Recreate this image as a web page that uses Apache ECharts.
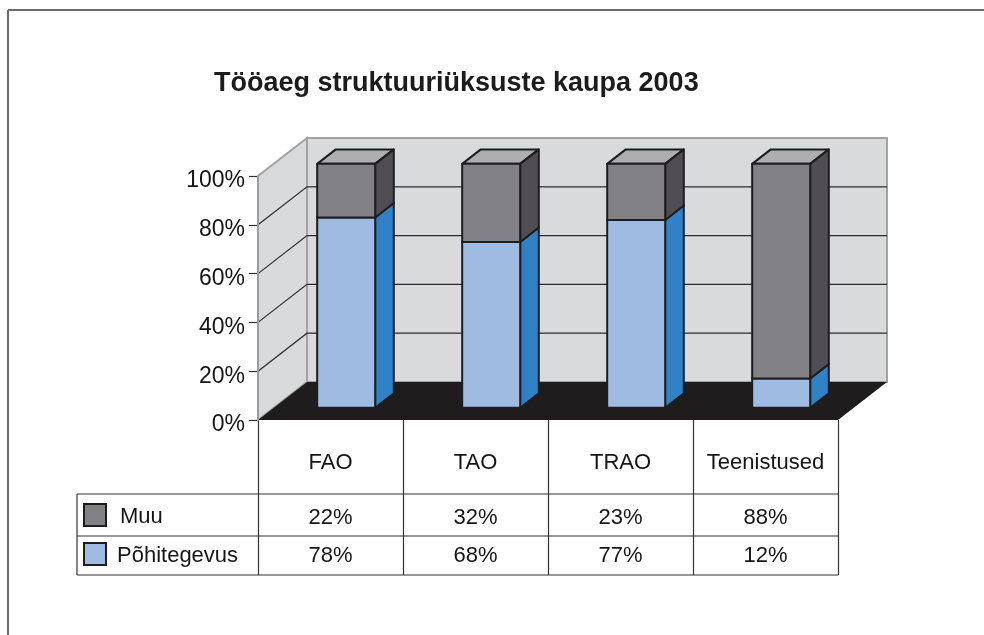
<!DOCTYPE html>
<html>
<head>
<meta charset="utf-8">
<script src="https://cdn.jsdelivr.net/npm/echarts@6/dist/echarts.min.js"></script>
<style>
  html, body { margin: 0; padding: 0; background: #fff; }
  #chart { width: 984px; height: 635px; }
</style>
</head>
<body>
<div id="chart"></div>
<script>
var categories = ['FAO', 'TAO', 'TRAO', 'Teenistused'];
var muu = [22, 32, 23, 88];
var pohitegevus = [78, 68, 77, 12];
var yTicks = [0, 20, 40, 60, 80, 100];
var seriesNames = ['Põhitegevus', 'Muu'];

var FONT = '"Liberation Sans", Arial, Helvetica, sans-serif';
var DX = 49, DY = -38;          // depth of the 3d box
var BAR_FRONT = 0.32, BAR_DEPTH = 0.38;
var COLORS = [
    {front: '#a0bbe2', side: '#3181c6', top: '#c6d6ee'},   // Põhitegevus
    {front: '#828186', side: '#504e53', top: '#aeaeb2'}    // Muu
];
var EDGE = '#1d1c1f';
var TEXT = '#151517';

// rows of the data table below the floor (offset from the 0% line)
var ROW_HEAD = 43, ROW_MUU = 98, ROW_POHI = 136;
var LINE_1 = 74, LINE_2 = 116, LINE_3 = 155;

function renderWalls(params, api) {
    var bw = api.size([1, 0])[0];
    var p0 = api.coord([0, 0]);
    var x0 = p0[0] - bw / 2, x1 = x0 + bw * categories.length;
    var yB = p0[1], yT = api.coord([0, yTicks[yTicks.length - 1]])[1];
    var children = [];

    // left wall
    children.push({
        type: 'polygon',
        shape: {points: [[x0, yB], [x0, yT], [x0 + DX, yT + DY], [x0 + DX, yB + DY]]},
        style: {fill: '#d9dadc', stroke: '#a2a2a4', lineWidth: 2}
    });
    // back wall
    children.push({
        type: 'rect',
        shape: {x: x0 + DX, y: yT + DY, width: x1 - x0, height: yB - yT},
        style: {fill: '#d9dadc', stroke: '#a2a2a4', lineWidth: 2}
    });
    // grid lines
    for (var i = 1; i < yTicks.length - 1; i++) {
        var y = api.coord([0, yTicks[i]])[1];
        children.push({
            type: 'polyline',
            shape: {points: [[x0, y], [x0 + DX, y + DY], [x1 + DX, y + DY]]},
            style: {stroke: '#2b2b2d', lineWidth: 1.2, fill: null}
        });
    }
    // floor
    children.push({
        type: 'polygon',
        shape: {points: [[x0, yB], [x1, yB], [x1 + DX, yB + DY], [x0 + DX, yB + DY]]},
        style: {fill: '#1f1c1e'}
    });
    // front edge of the left wall (axis line)
    children.push({
        type: 'line',
        shape: {x1: x0, y1: yB, x2: x0, y2: yT},
        style: {stroke: '#9c9c9e', lineWidth: 2}
    });
    return {type: 'group', children: children};
}

function renderBar(params, api) {
    var cat = api.value(0), lo = api.value(1), hi = api.value(2);
    var pLo = api.coord([cat, lo]), pHi = api.coord([cat, hi]);
    var bw = api.size([1, 0])[0] * 0.4;
    var c = COLORS[params.seriesIndex - 1];
    var xl = pLo[0] - bw / 2 + DX * BAR_FRONT, xr = xl + bw;
    var yb = pLo[1] + DY * BAR_FRONT, yt = pHi[1] + DY * BAR_FRONT;
    var dx = DX * BAR_DEPTH, dy = DY * BAR_DEPTH;
    var st = {stroke: EDGE, lineWidth: 2, lineJoin: 'round'};
    return {
        type: 'group',
        children: [
            {type: 'polygon', shape: {points: [[xl, yt], [xr, yt], [xr + dx, yt + dy], [xl + dx, yt + dy]]},
                style: Object.assign({fill: c.top}, st)},
            {type: 'polygon', shape: {points: [[xr, yb], [xr + dx, yb + dy], [xr + dx, yt + dy], [xr, yt]]},
                style: Object.assign({fill: c.side}, st)},
            {type: 'rect', shape: {x: xl, y: yt, width: bw, height: yb - yt},
                style: Object.assign({fill: c.front}, st)}
        ]
    };
}

function renderTable(params, api) {
    var i = api.value(0);
    var p = api.coord([i, 0]);
    var half = api.size([1, 0])[0] / 2;
    var x = p[0], y0 = p[1];
    var children = [];
    var lines = [LINE_1, LINE_2, LINE_3];
    for (var k = 0; k < lines.length; k++) {
        children.push({
            type: 'line',
            shape: {x1: x - half, y1: y0 + lines[k], x2: x + half, y2: y0 + lines[k]},
            style: {stroke: '#333', lineWidth: 1.2}
        });
    }
    var texts = [
        [categories[i], ROW_HEAD],
        [muu[i] + '%', ROW_MUU],
        [pohitegevus[i] + '%', ROW_POHI]
    ];
    for (var t = 0; t < texts.length; t++) {
        children.push({
            type: 'text',
            style: {
                text: texts[t][0], x: x, y: y0 + texts[t][1],
                align: 'center', verticalAlign: 'middle',
                fontSize: 22, fontFamily: FONT, fill: TEXT
            }
        });
    }
    return {type: 'group', children: children};
}

var pohiData = [], muuData = [], tableData = [];
for (var i = 0; i < categories.length; i++) {
    pohiData.push([i, 0, pohitegevus[i]]);
    muuData.push([i, pohitegevus[i], pohitegevus[i] + muu[i]]);
    tableData.push([i]);
}

var chart = echarts.init(document.getElementById('chart'));

var option = {
    animation: false,
    backgroundColor: '#fff',
    title: {
        text: 'Tööaeg struktuuriüksuste kaupa 2003',
        left: 214, top: 70, padding: 0,
        textStyle: {fontSize: 27, fontWeight: 'bold', fontFamily: FONT, color: '#1c1c1e'}
    },
    grid: {left: 258, top: 176, width: 580, height: 244},
    xAxis: {
        type: 'category',
        data: categories,
        axisLine: {show: false},
        axisTick: {show: true, length: 155, lineStyle: {color: '#333', width: 1.2}},
        axisLabel: {show: false},
        splitLine: {show: false}
    },
    yAxis: {
        type: 'value', min: 0, max: 100, interval: 20,
        axisLine: {show: true, lineStyle: {color: '#9c9c9e', width: 2}},
        axisTick: {show: true, length: 9, lineStyle: {color: '#333', width: 1.2}},
        axisLabel: {
            formatter: '{value}%', fontSize: 23, fontFamily: FONT, color: TEXT, margin: 13,
            verticalAlign: 'top', lineHeight: 10
        },
        splitLine: {show: false}
    },
    graphic: [
        {type: 'line', shape: {x1: 8, y1: 10, x2: 984, y2: 10}, style: {stroke: '#6b6b6b', lineWidth: 2}},
        {type: 'line', shape: {x1: 8, y1: 10, x2: 8, y2: 635}, style: {stroke: '#6b6b6b', lineWidth: 2}},
        {type: 'line', shape: {x1: 77, y1: 494, x2: 258, y2: 494}, style: {stroke: '#333', lineWidth: 1.2}},
        {type: 'line', shape: {x1: 77, y1: 536, x2: 258, y2: 536}, style: {stroke: '#333', lineWidth: 1.2}},
        {type: 'line', shape: {x1: 77, y1: 575, x2: 258, y2: 575}, style: {stroke: '#333', lineWidth: 1.2}},
        {type: 'line', shape: {x1: 77, y1: 494, x2: 77, y2: 575}, style: {stroke: '#333', lineWidth: 1.2}},
        {type: 'rect', shape: {x: 84, y: 504, width: 22, height: 22}, style: {fill: COLORS[1].front, stroke: EDGE, lineWidth: 2}},
        {type: 'rect', shape: {x: 84, y: 543, width: 22, height: 22}, style: {fill: COLORS[0].front, stroke: EDGE, lineWidth: 2}},
        {type: 'text', style: {text: seriesNames[1], x: 120, y: 517, verticalAlign: 'middle', fontSize: 22, fontFamily: FONT, fill: TEXT}},
        {type: 'text', style: {text: seriesNames[0], x: 117, y: 556, verticalAlign: 'middle', fontSize: 22, fontFamily: FONT, fill: TEXT}}
    ],
    series: [
        {type: 'custom', name: 'walls', renderItem: renderWalls, data: [[0]], silent: true},
        {type: 'custom', name: seriesNames[0], renderItem: renderBar, data: pohiData, encode: {x: 0, y: [1, 2]}},
        {type: 'custom', name: seriesNames[1], renderItem: renderBar, data: muuData, encode: {x: 0, y: [1, 2]}},
        {type: 'custom', name: 'table', renderItem: renderTable, data: tableData, silent: true}
    ]
};

chart.setOption(option);
</script>
</body>
</html>
